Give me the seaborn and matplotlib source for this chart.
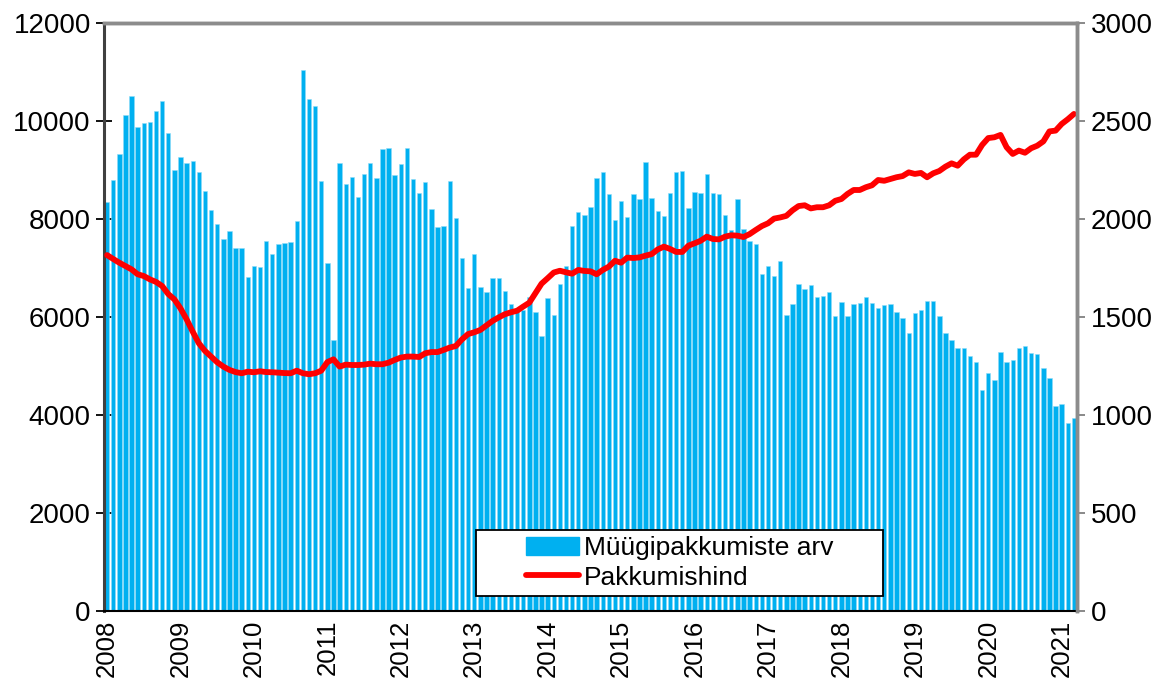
import numpy as np
import pandas as pd
import matplotlib
matplotlib.use("Agg")
import matplotlib.pyplot as plt
import matplotlib.patches as mpatches
from matplotlib.lines import Line2D
import seaborn as sns

# Monthly data, Jan 2008 .. Mar 2021
listings = [
    8353, 8789, 9320, 10129, 10504, 9878, 9959, 9980, 10211, 10415, 9762, 9007,
    9259, 9150, 9190, 8952, 8565, 8190, 7891, 7599, 7762, 7401, 7401, 6823,
    7041, 7020, 7551, 7286, 7497, 7503, 7537, 7959, 11041, 10449, 10313, 8776,
    7095, 5540, 9150, 8714, 8850, 8449, 8912, 9150, 8830, 9422, 9456, 8898,
    9122, 9442, 8816, 8531, 8748, 8204, 7837, 7850, 8775, 8013, 7204, 6592,
    7292, 6612, 6503, 6789, 6803, 6531, 6272, 6180, 6140, 6415, 6102, 5605,
    6388, 6048, 6680, 7041, 7864, 8136, 8082, 8252, 8830, 8952, 8510, 7973,
    8367, 8048, 8510, 8401, 9163, 8429, 8163, 8068, 8531, 8959, 8980, 8218,
    8558, 8531, 8918, 8524, 8504, 8075, 7782, 8415, 7796, 7544, 7497, 6878,
    7041, 6837, 7143, 6041, 6259, 6680, 6565, 6653, 6408, 6435, 6510, 6014,
    6306, 6027, 6259, 6293, 6408, 6286, 6177, 6238, 6259, 6095, 5973, 5667,
    6088, 6150, 6327, 6333, 6014, 5667, 5537, 5374, 5367, 5204, 5075, 4503,
    4864, 4714, 5279, 5082, 5116, 5367, 5415, 5265, 5238, 4959, 4748, 4184,
    4224, 3837, 3939,
]
price = [
    1816, 1796, 1777, 1760, 1743, 1718, 1709, 1692, 1679, 1658, 1617, 1590,
    1544, 1488, 1425, 1366, 1327, 1298, 1269, 1247, 1230, 1219, 1213, 1221,
    1218, 1223, 1219, 1218, 1216, 1214, 1213, 1226, 1213, 1208, 1213, 1226,
    1270, 1284, 1247, 1257, 1255, 1255, 1257, 1262, 1259, 1259, 1267, 1281,
    1293, 1298, 1298, 1296, 1315, 1321, 1321, 1332, 1344, 1352, 1386, 1413,
    1422, 1434, 1457, 1480, 1498, 1514, 1524, 1532, 1553, 1573, 1621, 1670,
    1698, 1727, 1736, 1728, 1721, 1740, 1735, 1733, 1718, 1740, 1757, 1787,
    1777, 1803, 1801, 1804, 1813, 1821, 1845, 1859, 1847, 1832, 1832, 1864,
    1876, 1889, 1910, 1898, 1896, 1910, 1917, 1915, 1908, 1923, 1944, 1964,
    1978, 2002, 2008, 2016, 2044, 2066, 2070, 2054, 2060, 2060, 2070, 2093,
    2102, 2128, 2148, 2148, 2162, 2172, 2199, 2195, 2204, 2213, 2219, 2238,
    2230, 2235, 2213, 2233, 2245, 2267, 2284, 2272, 2304, 2328, 2328, 2378,
    2413, 2417, 2429, 2366, 2332, 2349, 2338, 2361, 2374, 2396, 2447, 2451,
    2485, 2509, 2536,
]
year_labels = [str(y) for y in range(2008, 2022)]

label_bars = "Müügipakkumiste arv"
label_line = "Pakkumishind"

n = len(listings)
df = pd.DataFrame({"idx": np.arange(n), "listings": listings, "price": price})

sns.set_style("white")
plt.rcParams["font.family"] = ["Liberation Sans", "DejaVu Sans"]
plt.rcParams["text.color"] = "black"
plt.rcParams["xtick.labelcolor"] = "black"
plt.rcParams["ytick.labelcolor"] = "black"

W, H = 1169, 680
fig = plt.figure(figsize=(W / 100, H / 100), dpi=100)
L, R, T, B = 104, 1077, 23, 611
ax = fig.add_axes([L / W, 1 - B / H, (R - L) / W, (B - T) / H])

bar_color = "#00B0F0"
sns.barplot(data=df, x="idx", y="listings", ax=ax, color=bar_color,
            saturation=1, width=0.72, edgecolor="#8fdcf7", linewidth=0.4,
            native_scale=False)
ax.set_xlim(-0.5, n - 0.5)
ax.set_ylim(0, 12000)
ax.set_yticks(np.arange(0, 12001, 2000))
ax.set_yticklabels([str(v) for v in range(0, 12001, 2000)], fontsize=20)
ax.set_xlabel("")
ax.set_ylabel("")

# x ticks: year labels at January positions, small ticks at every category boundary
ax.set_xticks(np.arange(0, n, 12))
ax.set_xticklabels(year_labels, rotation=90, fontsize=18.5)
ax.set_xticks(np.arange(-0.5, n, 1), minor=True)
ax.tick_params(axis="x", which="major", length=0, pad=6, labelcolor="black")
ax.tick_params(axis="x", which="minor", direction="inout", length=11,
               width=1.2, color="#404040")
ax.tick_params(axis="y", which="major", direction="inout", length=11,
               width=1.3, color="#000000", pad=4, labelcolor="black")

ax2 = ax.twinx()
sns.lineplot(data=df, x="idx", y="price", ax=ax2, color="#FF0000",
             linewidth=4.2, legend=False)
ax2.set_ylim(0, 3000)
ax2.set_yticks(np.arange(0, 3001, 500))
ax2.set_yticklabels([str(v) for v in range(0, 3001, 500)], fontsize=20)
ax2.set_xlim(-0.5, n - 0.5)
ax2.set_ylabel("")
ax2.set_xlabel("")
ax2.tick_params(axis="y", which="major", direction="out", length=6,
                width=1.3, color="#808080", pad=4, labelcolor="black")

for a in (ax, ax2):
    for s in a.spines.values():
        s.set_visible(True)
ax.spines["left"].set_color("#404040")
ax.spines["left"].set_linewidth(2.2)
ax.spines["bottom"].set_color("#000000")
ax.spines["bottom"].set_linewidth(1.5)
for a in (ax, ax2):
    a.spines["top"].set_color("#8c8c8c")
    a.spines["top"].set_linewidth(2.5)
    a.spines["right"].set_color("#8c8c8c")
    a.spines["right"].set_linewidth(2.5)
ax2.spines["left"].set_visible(False)
ax2.spines["bottom"].set_visible(False)

# legend with a plain rectangular frame
bx0, by0, bx1, by1 = 476, 530, 883, 596
frame = mpatches.Rectangle((bx0 / W, 1 - by1 / H), (bx1 - bx0) / W, (by1 - by0) / H,
                           transform=fig.transFigure, facecolor="white",
                           edgecolor="black", linewidth=1.3, zorder=5)
fig.patches.append(frame)
handles = [mpatches.Patch(facecolor=bar_color, edgecolor=bar_color),
           Line2D([0], [0], color="#FF0000", linewidth=4.2)]
leg = fig.legend(handles, [label_bars, label_line], loc="center",
                 bbox_to_anchor=((bx0 + bx1) / 2 / W, 1 - (by0 + by1) / 2 / H),
                 bbox_transform=fig.transFigure, frameon=False, fontsize=19,
                 handlelength=2.0, handletextpad=0.2, labelspacing=0.2,
                 borderpad=0.2, labelcolor="black")
leg.set_zorder(6)

fig.savefig("out.png", dpi=100)
